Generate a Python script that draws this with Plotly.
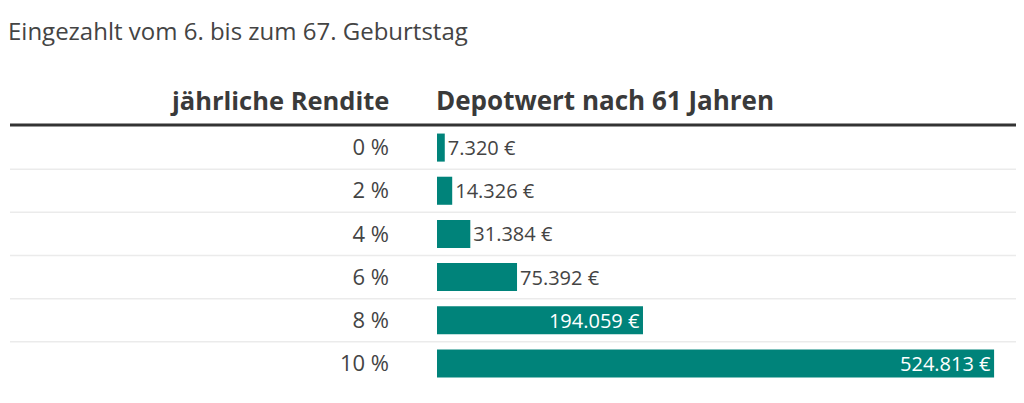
import plotly.graph_objects as go

# Daten
renditen = ["0 %", "2 %", "4 %", "6 %", "8 %", "10 %"]
depotwerte = [7320, 14326, 31384, 75392, 194059, 524813]
label_pos = ["outside", "outside", "outside", "outside", "inside", "inside"]

title_text = "Eingezahlt vom 6. bis zum 67. Geburtstag"
header_left = "jährliche Rendite"
header_right = "Depotwert nach 61 Jahren"

FONT = "Open Sans"
TEAL = "#00837a"
TEXT = "#444444"

# the page body has an 8px margin, so the figure starts at (8, 8) on screen
W, H = 1024, 403
L, R, T, B = 429, 15, 118, 25.5
plot_w = W - L - R
plot_h = H - T - B


def px_x(px):
    # pixel -> paper x
    return (px - L) / plot_w


def px_y(py):
    # pixel -> paper y
    return (H - B - py) / plot_h


fig = go.Figure()

fig.add_trace(go.Bar(
    x=depotwerte,
    y=renditen,
    orientation="h",
    marker=dict(color=TEAL, line=dict(width=0)),
    width=0.65,
    texttemplate="%{x:,.0f} €",
    textposition=label_pos,
    insidetextanchor="end",
    insidetextfont=dict(family=FONT, size=20, color="white"),
    outsidetextfont=dict(family=FONT, size=20, color=TEXT),
    cliponaxis=False,
    constraintext="none",
    hoverinfo="skip",
))

# Trennlinien zwischen den Zeilen
for i in range(len(renditen) - 1):
    fig.add_shape(type="line", xref="paper", yref="y",
                  x0=px_x(2), x1=1, y0=i + 0.5, y1=i + 0.5,
                  line=dict(color="#ebebeb", width=1.5), layer="below")

# dicke Linie unter den Spaltenköpfen
fig.add_shape(type="line", xref="paper", yref="paper",
              x0=px_x(2), x1=1, y0=px_y(117), y1=px_y(117),
              line=dict(color="#333333", width=3))

fig.add_annotation(text=header_left, xref="paper", yref="paper",
                   x=px_x(383), y=px_y(92), xanchor="right", yanchor="middle",
                   showarrow=False,
                   font=dict(family=FONT, size=25.5, color="#3a3a3a", weight="bold"))
fig.add_annotation(text=header_right, xref="paper", yref="paper",
                   x=px_x(426), y=px_y(92), xanchor="left", yanchor="middle",
                   showarrow=False,
                   font=dict(family=FONT, size=26, color="#3a3a3a", weight="bold"))

fig.update_layout(
    width=W, height=H,
    margin=dict(l=L, r=R, t=T, b=B),
    paper_bgcolor="white",
    plot_bgcolor="white",
    separators=",.",
    showlegend=False,
    title=dict(text=title_text, x=0, xanchor="left",
               y=1 - 24 / H, yanchor="middle", yref="container",
               font=dict(family=FONT, size=24, color="#444444")),
    xaxis=dict(range=[0, 546400], visible=False, fixedrange=True),
    yaxis=dict(autorange=False, range=[len(renditen) - 0.5, -0.5],
               showgrid=False, zeroline=False, showline=False, ticks="",
               ticklabelstandoff=47,
               tickfont=dict(family=FONT, size=22, color=TEXT),
               fixedrange=True),
)

fig.write_html("out.html")
